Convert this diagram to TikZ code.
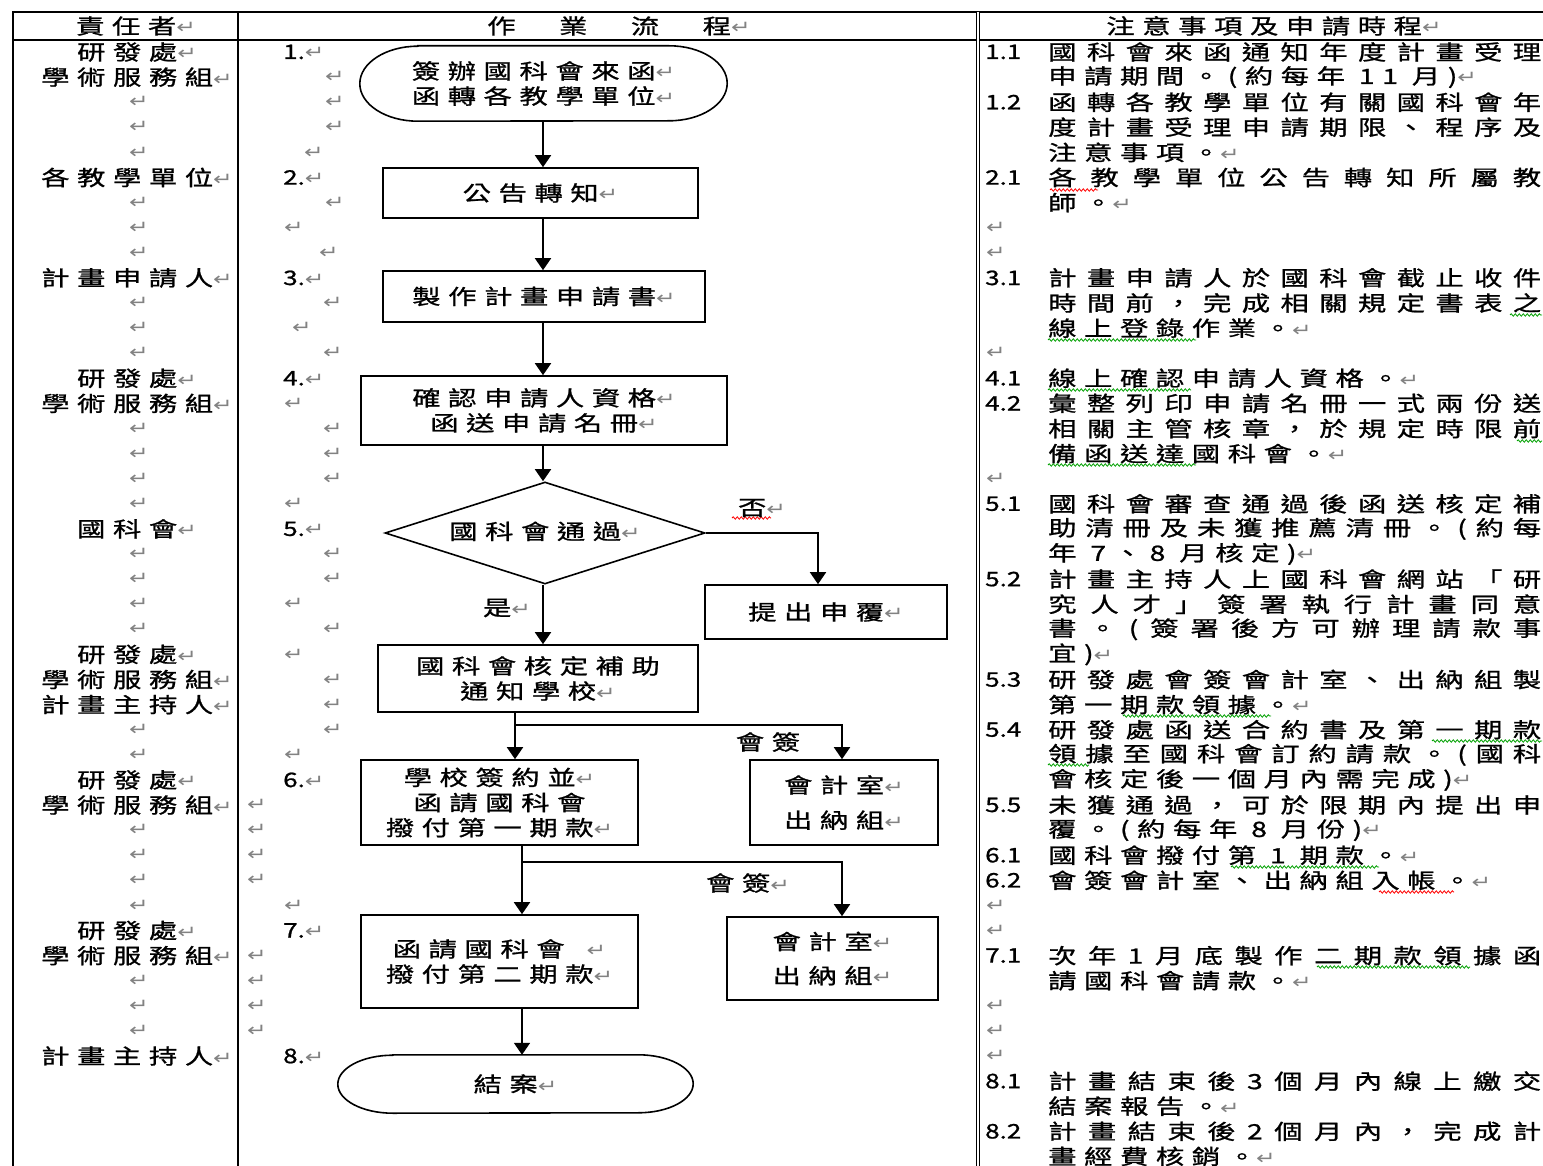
\documentclass[tikz,border=0pt]{standalone}
\usepackage{fontspec}
\usetikzlibrary{arrows.meta,shapes.geometric,decorations.pathmorphing}
\newfontfamily\cjkfont[FakeStretch=1.35,LetterSpace=36,FakeBold=1]{Noto Sans CJK TC}
\newfontfamily\cjkjfont[FakeStretch=1.35,FakeBold=1]{Noto Sans CJK TC}
\newfontfamily\cjknumfont[FakeStretch=1.3,FakeBold=1]{Noto Sans CJK TC}
\newfontfamily\rmkfont[FakeStretch=1.3]{DejaVu Sans}
\definecolor{rmkgray}{RGB}{130,130,130}
\definecolor{wgreen}{RGB}{0,160,0}
\newcommand\rmk{{\color{rmkgray}\fontsize{18}{18}\selectfont\rmkfont ↵}}
\newcommand\tfnt{\fontsize{21}{25.1}\selectfont\cjkfont}
\newcommand\jfnt{\fontsize{21}{25.1}\selectfont\cjkjfont}
\newcommand\nfnt{\fontsize{20}{25.1}\selectfont\cjknumfont}
\ExplSyntaxOn
\NewDocumentCommand\jline{m}{
  \tl_set:Nx \l_tmpa_tl {#1}
  \hbox_to_wd:nn {493pt} { \tl_map_inline:Nn \l_tmpa_tl { ##1 \hfil } \unskip }
}
\ExplSyntaxOff
\newcommand\lcell[2]{\node[txt] (L#1) at (137,{52+25.1*#1}) {\tfnt #2\rmk};}
\newcommand\rj[2]{\node[rtxt] (R#1) at (1048,{52+25.1*#1}) {\jfnt\jline{#2}};}
\newcommand\rn[2]{\node[rtxt] (R#1) at (1048,{52+25.1*#1}) {\tfnt #2\rmk};}
\newcommand\rnum[2]{\node[rtxt] (N#1) at (985,{52+25.1*#1}) {\nfnt #2};}
\newcommand\mnum[2]{\node[rtxt] (M#1) at (283,{52+25.1*#1}) {\nfnt #2\rmk};}
\begin{document}
\begin{tikzpicture}[x=1pt,y=-1pt,
  txt/.style={inner sep=0pt,align=center},
  rtxt/.style={inner sep=0pt,anchor=west},
  box/.style={draw,line width=1.6pt,inner sep=0pt,align=center,font=\tfnt},
  tbl/.style={line width=2.6pt},
  flow/.style={line width=1.6pt},
  arr/.style={line width=1.8pt,-{Triangle[width=16pt,length=12pt]}},
  wavyr/.style={draw=red,line width=0.8pt,decorate,decoration={snake,amplitude=1.2pt,segment length=4pt}},
  wavyg/.style={draw=wgreen,line width=0.8pt,decorate,decoration={snake,amplitude=1.2pt,segment length=4pt}}]
\useasboundingbox (0,0) rectangle (1543,1166);
\fill[white] (0,0) rectangle (1543,1166);
% table
\draw[tbl] (12,12) -- (1543,12);
\draw[tbl] (12,40) -- (1543,40);
\draw[tbl] (13,12) -- (13,1166);
\draw[tbl] (238,12) -- (238,1166);
\draw[line width=1.1pt,double distance=1.2pt] (978,12) -- (978,1166);
% header
\node[txt] (H1) at (136,26) {\tfnt 責任者\rmk};
\node[txt] (H2) at (619,26) {\tfnt 作　業　流　程\rmk};
\node[txt] (H3) at (1274,26) {\tfnt 注意事項及申請時程\rmk};
% left column
\lcell{0}{研發處}
\lcell{1}{學術服務組}
\lcell{5}{各教學單位}
\lcell{9}{計畫申請人}
\lcell{13}{研發處}
\lcell{14}{學術服務組}
\lcell{19}{國科會}
\lcell{24}{研發處}
\lcell{25}{學術服務組}
\lcell{26}{計畫主持人}
\lcell{29}{研發處}
\lcell{30}{學術服務組}
\lcell{35}{研發處}
\lcell{36}{學術服務組}
\lcell{40}{計畫主持人}
\foreach \n in {2,3,4,6,7,8,10,11,12,15,16,17,18,20,21,22,23,27,28,31,32,33,34,37,38,39}
  \node[txt] (LE\n) at (139,{52+25.1*\n}) {\rmk};
% middle column
\mnum{0}{1.}
\mnum{5}{2.}
\mnum{9}{3.}
\mnum{13}{4.}
\mnum{19}{5.}
\mnum{29}{6.}
\mnum{35}{7.}
\mnum{40}{8.}
\foreach \n/\x in {1/325,2/325,3/325,4/304,6/325,7/284,8/319,10/323,11/292,12/323,14/284,15/323,16/323,17/323,18/284,20/323,21/323,22/284,23/323,24/284,25/323,26/323,27/323,28/284,30/247,31/247,32/247,33/247,34/284,36/247,37/247,38/247,39/247}
  \node[rtxt] (ME\n) at (\x,{52+25.1*\n}) {\rmk};
% right column numbers
\rnum{0}{1.1}
\rnum{2}{1.2}
\rnum{5}{2.1}
\rnum{9}{3.1}
\rnum{13}{4.1}
\rnum{14}{4.2}
\rnum{18}{5.1}
\rnum{21}{5.2}
\rnum{25}{5.3}
\rnum{27}{5.4}
\rnum{30}{5.5}
\rnum{32}{6.1}
\rnum{33}{6.2}
\rnum{36}{7.1}
\rnum{41}{8.1}
\rnum{43}{8.2}
% right column text
\rj{0}{國科會來函通知年度計畫受理}
\rn{1}{申請期間。(約每年 11 月)}
\rj{2}{函轉各教學單位有關國科會年}
\rj{3}{度計畫受理申請期限、程序及}
\rn{4}{注意事項。}
\rj{5}{各教學單位公告轉知所屬教}
\rn{6}{師。}
\rj{9}{計畫申請人於國科會截止收件}
\rj{10}{時間前，完成相關規定書表之}
\rn{11}{線上登錄作業。}
\rn{13}{線上確認申請人資格。}
\rj{14}{彙整列印申請名冊一式兩份送}
\rj{15}{相關主管核章，於規定時限前}
\rn{16}{備函送達國科會。}
\rj{18}{國科會審查通過後函送核定補}
\rj{19}{助清冊及未獲推薦清冊。(約每}
\rn{20}{年 7、8 月核定)}
\rj{21}{計畫主持人上國科會網站「研}
\rj{22}{究人才」簽署執行計畫同意}
\rj{23}{書。(簽署後方可辦理請款事}
\rn{24}{宜)}
\rj{25}{研發處會簽會計室、出納組製}
\rn{26}{第一期款領據。}
\rj{27}{研發處函送合約書及第一期款}
\rj{28}{領據至國科會訂約請款。(國科}
\rn{29}{會核定後一個月內需完成)}
\rj{30}{未獲通過，可於限期內提出申}
\rn{31}{覆。(約每年 8 月份)}
\rn{32}{國科會撥付第 1 期款。}
\rn{33}{會簽會計室、出納組入帳。}
\rj{36}{次年 1 月底製作二期款領據函}
\rn{37}{請國科會請款。}
\rj{41}{計畫結束後 3 個月內線上繳交}
\rn{42}{結案報告。}
\rj{43}{計畫結束後 2 個月內，完成計}
\rn{44}{畫經費核銷。}
\foreach \n in {7,8,12,17,34,35,38,39,40}
  \node[rtxt] (RE\n) at (986,{52+25.1*\n}) {\rmk};
% spell-check underlines
\draw[wavyr] (1050,190) -- (1098,190);
\draw[wavyg] (1510,315) -- (1542,315);
\draw[wavyg] (1048,340) -- (1196,340);
\draw[wavyg] (1048,390) -- (1191,390);
\draw[wavyg] (1517,441) -- (1542,441);
\draw[wavyg] (1048,465) -- (1196,465);
\draw[wavyg] (1123,716) -- (1271,716);
\draw[wavyg] (1432,741) -- (1542,741);
\draw[wavyg] (1048,765) -- (1089,765);
\draw[wavyg] (1231,867) -- (1379,867);
\draw[wavyr] (1379,892) -- (1454,892);
\draw[wavyg] (1317,967) -- (1470,967);
\draw[wavyr] (732,518) -- (771,518);
% flowchart
\node[txt,minimum width=367pt,minimum height=75pt,font=\tfnt] (t1) at (543.5,83.5) {簽辦國科會來函\rmk\\函轉各教學單位\rmk};
\draw[flow] ([xshift=58pt]t1.north west) -- ([xshift=-58pt]t1.north east)
  arc[start angle=90,end angle=-90,x radius=58pt,y radius=37.5pt]
  -- ([xshift=58pt]t1.south west)
  arc[start angle=270,end angle=90,x radius=58pt,y radius=37.5pt] -- cycle;
\node[box,minimum width=315pt,minimum height=50pt] (b2) at (540.5,193) {公告轉知\rmk};
\node[box,minimum width=322pt,minimum height=51pt] (b3) at (544,296.5) {製作計畫申請書\rmk};
\node[box,minimum width=366pt,minimum height=69pt] (b4) at (544,410.5) {確認申請人資格\rmk\\函送申請名冊\rmk};
\node[box,diamond,aspect=3.14,minimum width=320pt,minimum height=102pt] (d) at (545,533) {\raisebox{5pt}{國科會通過\rmk}};
\node[box,minimum width=242pt,minimum height=54pt] (b7) at (826,612) {提出申覆\rmk};
\node[box,minimum width=320pt,minimum height=67pt] (b9) at (538,678.5) {國科會核定補助\\通知學校\rmk};
\node[box,minimum width=277pt,minimum height=85pt] (b10) at (499.5,802.5) {學校簽約並\rmk\\函請國科會\\撥付第一期款\rmk};
\node[box,minimum width=188pt,minimum height=85pt] (b11) at (844,802.5) {會計室\rmk\\[10pt]出納組\rmk};
\node[box,minimum width=277pt,minimum height=93pt] (b13) at (499.5,961.5) {函請國科會\hspace{22pt}\rmk\\撥付第二期款\rmk};
\node[box,minimum width=211pt,minimum height=83pt] (b14) at (832.5,958.5) {會計室\rmk\\[9pt]出納組\rmk};
\node[txt,minimum width=355pt,minimum height=58pt,font=\tfnt] (t2) at (515.5,1084) {結案\rmk};
\draw[flow] ([xshift=55pt]t2.north west) -- ([xshift=-55pt]t2.north east)
  arc[start angle=90,end angle=-90,x radius=55pt,y radius=29pt]
  -- ([xshift=55pt]t2.south west)
  arc[start angle=270,end angle=90,x radius=55pt,y radius=29pt] -- cycle;
% labels
\node[txt,font=\tfnt] (no) at (762,508) {否\rmk};
\node[txt,font=\tfnt] (yes) at (507,608) {是\rmk};
\node[txt,font=\tfnt] (hq1) at (768,742) {會簽};
\node[txt,font=\tfnt] (hq2) at (748,883) {會簽\rmk};
% connectors
\coordinate (c0) at (543,0);
\coordinate (j1) at (515,725);
\coordinate (j2) at (522,862);
\coordinate (k1) at (818,0);
\coordinate (k2) at (842,0);
\draw[arr] (c0 |- t1.south) -- (c0 |- b2.north);
\draw[arr] (c0 |- b2.south) -- (c0 |- b3.north);
\draw[arr] (c0 |- b3.south) -- (c0 |- b4.north);
\draw[arr] (c0 |- b4.south) -- (c0 |- d.north);
\draw[arr] (d.east) -| (k1 |- b7.north);
\draw[arr] (c0 |- d.south) -- (c0 |- b9.north);
\draw[arr] (j1 |- b9.south) -- (j1 |- b10.north);
\draw[arr] (j1) -| (k2 |- b11.north);
\draw[arr] (j2 |- b10.south) -- (j2 |- b13.north);
\draw[arr] (j2) -| (k2 |- b14.north);
\draw[arr] (j2 |- b13.south) -- (j2 |- t2.north);
\end{tikzpicture}
\end{document}
